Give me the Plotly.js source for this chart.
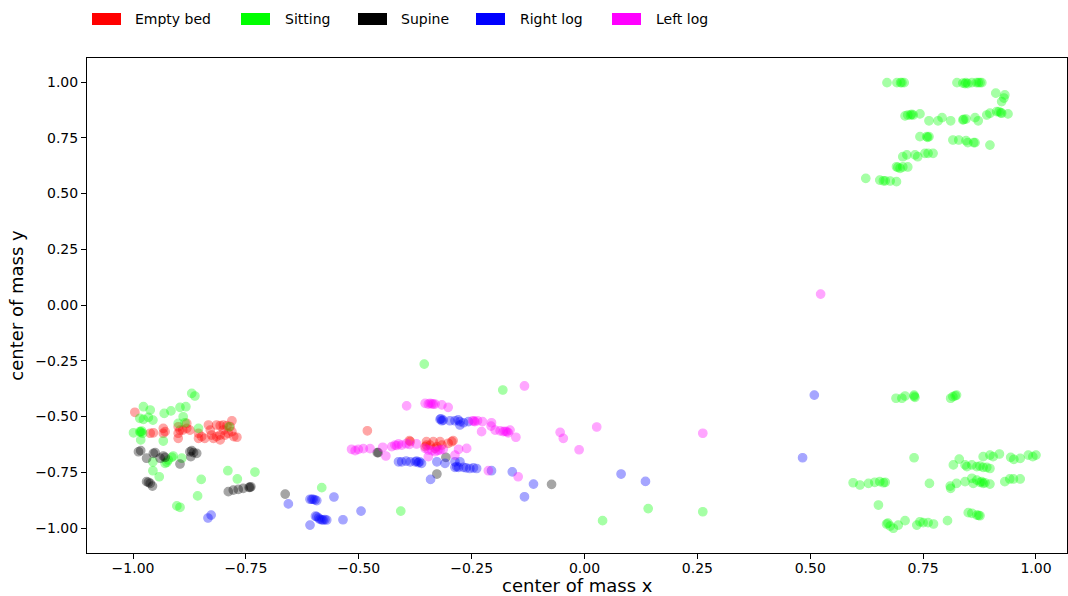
<!DOCTYPE html>
<html>
<head>
<meta charset="utf-8">
<script src="https://cdn.plot.ly/plotly-3.0.1.min.js"></script>
<style>html,body{margin:0;padding:0;background:#fff;}#chart{width:1068px;height:596px;}</style>
</head>
<body>
<div id="chart"></div>
<script>
const categories = ["Empty bed", "Sitting", "Supine", "Right log", "Left log"];
const colors = ["#ff0000", "#00ff00", "#000000", "#0000ff", "#ff00ff"];
const xTitle = "center of mass x";
const yTitle = "center of mass y";

const emptyX = [-0.996,-0.962,-0.955,-0.933,-0.933,-0.929,-0.900,-0.900,-0.896,-0.900,-0.890,-0.881,-0.874,-0.881,
  -0.855,-0.855,-0.848,-0.841,-0.833,-0.829,-0.826,-0.822,-0.815,-0.807,-0.807,
  -0.800,-0.796,-0.789,-0.781,-0.777,-0.770,-0.781,-0.815,-0.807,-0.800,-0.792,-0.785,
  -0.481,-0.388,-0.386,-0.350,-0.350,-0.342,-0.335,-0.327,-0.320,-0.316,-0.302,-0.294,-0.353,-0.331,-0.291];
const emptyY = [-0.481,-0.575,-0.573,-0.553,-0.575,-0.568,-0.546,-0.575,-0.561,-0.598,-0.561,-0.553,-0.561,-0.531,
  -0.575,-0.598,-0.590,-0.598,-0.538,-0.561,-0.583,-0.598,-0.590,-0.583,-0.605,
  -0.561,-0.583,-0.575,-0.568,-0.590,-0.593,-0.519,-0.538,-0.541,-0.538,-0.541,-0.545,
  -0.564,-0.608,-0.612,-0.628,-0.613,-0.628,-0.613,-0.635,-0.613,-0.628,-0.620,-0.613,-0.635,-0.643,-0.608];

const sittingX = [0.670,0.692,0.700,0.703,0.708,0.825,0.838,0.843,0.845,0.849,0.858,0.868,0.872,0.876,0.880,
  0.911,0.931,0.929,0.924,0.710,0.716,0.722,0.725,0.728,0.743,
  0.763,0.783,0.792,0.811,0.838,0.840,0.845,0.865,0.872,0.891,0.898,0.913,0.918,0.922,0.924,0.938,
  0.743,0.758,0.763,0.760,0.816,0.829,0.845,0.849,0.862,0.865,0.898,
  0.705,0.714,0.732,0.738,0.754,0.761,0.772,0.691,0.699,0.705,0.716,0.694,
  0.623,0.654,0.662,0.666,0.677,0.691,
  0.690,0.703,0.710,0.730,0.732,0.730,0.811,0.816,0.821,0.824,0.730,
  0.817,0.830,0.843,0.847,0.858,0.869,0.876,0.883,0.891,0.898,0.883,0.898,0.905,0.919,
  0.944,0.951,0.965,0.983,0.993,1.000,
  0.595,0.610,0.629,0.643,0.654,0.662,0.666,0.764,0.810,0.811,0.824,
  0.843,0.858,0.861,0.869,0.876,0.880,0.883,0.887,0.898,0.931,0.942,0.950,0.965,
  0.651,0.850,0.858,0.869,0.876,0.873,0.669,0.672,0.677,0.684,0.695,0.710,
  0.736,0.743,0.750,0.761,0.773,0.804,
  -0.355,-0.181,-0.582,-0.407,0.040,0.141,0.262,
  -0.870,-0.863,-0.977,-0.962,-0.896,-0.883,-0.985,-0.977,-0.966,-0.956,-0.931,-0.916,
  -0.889,-0.900,-0.885,-0.855,-0.999,-0.985,-0.979,-0.983,-0.981,-0.983,-0.933,
  -0.929,-0.922,-0.914,-0.911,-0.892,-0.925,-0.956,-0.956,-0.942,-0.849,-0.857,-0.903,-0.896,
  -0.790,-0.769,-0.730,-0.787];
const sittingY = [0.997,0.997,0.997,0.997,0.997,0.997,0.995,0.993,0.997,0.993,0.997,0.997,0.997,0.997,0.997,
  0.950,0.942,0.928,0.912,0.848,0.852,0.852,0.855,0.852,0.857,
  0.826,0.826,0.840,0.826,0.830,0.832,0.834,0.840,0.826,0.852,0.860,0.867,0.867,0.862,0.860,0.857,
  0.755,0.755,0.755,0.752,0.740,0.740,0.737,0.728,0.728,0.728,0.717,
  0.665,0.673,0.673,0.665,0.680,0.680,0.680,0.620,0.613,0.619,0.619,0.617,
  0.568,0.560,0.557,0.557,0.556,0.553,
  -0.418,-0.418,-0.408,-0.404,-0.414,-0.410,-0.418,-0.411,-0.407,-0.404,-0.685,
  -0.717,-0.691,-0.717,-0.725,-0.717,-0.725,-0.722,-0.728,-0.728,-0.733,-0.680,-0.673,-0.680,-0.668,
  -0.683,-0.692,-0.688,-0.673,-0.680,-0.673,
  -0.797,-0.807,-0.800,-0.795,-0.792,-0.797,-0.795,-0.800,-0.812,-0.822,-0.800,
  -0.792,-0.777,-0.800,-0.785,-0.795,-0.792,-0.800,-0.797,-0.803,-0.792,-0.780,-0.780,-0.780,
  -0.897,-0.931,-0.934,-0.942,-0.945,-0.943,-0.982,-0.978,-0.991,-1.001,-0.987,-0.967,
  -0.987,-0.972,-0.976,-0.976,-0.982,-0.967,
  -0.265,-0.381,-0.819,-0.924,-0.967,-0.913,-0.927,
  -0.396,-0.408,-0.456,-0.471,-0.459,-0.456,-0.508,-0.513,-0.504,-0.516,-0.486,-0.475,
  -0.501,-0.531,-0.528,-0.553,-0.573,-0.568,-0.575,-0.570,-0.565,-0.605,-0.610,
  -0.710,-0.695,-0.683,-0.677,-0.687,-0.705,-0.703,-0.743,-0.770,-0.782,-0.856,-0.901,-0.907,
  -0.743,-0.780,-0.749,-0.546];

const supineX = [-0.988,-0.983,-0.970,-0.955,-0.951,-0.940,-0.929,-0.933,-0.896,-0.874,-0.870,-0.866,-0.859,-0.872,
  -0.970,-0.966,-0.962,-0.957,-0.789,-0.778,-0.767,-0.756,-0.741,-0.743,-0.739,
  -0.663,-0.459,-0.457,-0.307,-0.327,-0.073];
const supineY = [-0.658,-0.653,-0.687,-0.665,-0.662,-0.687,-0.683,-0.677,-0.713,-0.658,-0.653,-0.662,-0.665,-0.680,
  -0.792,-0.795,-0.800,-0.812,-0.837,-0.830,-0.827,-0.822,-0.818,-0.818,-0.815,
  -0.848,-0.662,-0.662,-0.683,-0.758,-0.804];

const rightX = [-0.656,-0.608,-0.604,-0.601,-0.597,-0.593,-0.555,-0.608,
  -0.596,-0.593,-0.589,-0.586,-0.582,-0.579,-0.575,-0.571,-0.535,-0.495,-0.834,-0.827,
  -0.320,-0.316,-0.313,-0.318,-0.298,-0.287,-0.276,-0.268,-0.257,-0.276,-0.280,
  -0.412,-0.405,-0.386,-0.375,-0.368,-0.361,-0.372,-0.365,-0.395,-0.327,-0.309,
  -0.287,-0.279,-0.268,-0.254,-0.239,-0.283,-0.262,-0.246,-0.287,-0.276,
  -0.341,-0.206,-0.160,-0.113,-0.133,0.081,0.135,0.483,0.509];
const rightY = [-0.892,-0.871,-0.871,-0.871,-0.874,-0.877,-0.861,-0.987,
  -0.947,-0.949,-0.955,-0.961,-0.963,-0.964,-0.962,-0.964,-0.963,-0.924,-0.955,-0.942,
  -0.513,-0.519,-0.516,-0.510,-0.519,-0.519,-0.523,-0.528,-0.523,-0.538,-0.515,
  -0.703,-0.703,-0.703,-0.703,-0.707,-0.710,-0.700,-0.703,-0.700,-0.703,-0.710,
  -0.728,-0.728,-0.728,-0.733,-0.733,-0.725,-0.730,-0.730,-0.703,-0.703,
  -0.782,-0.743,-0.748,-0.803,-0.860,-0.758,-0.791,-0.685,-0.404];

const leftX = [0.523,0.262,0.027,-0.012,-0.047,-0.054,-0.133,-0.394,
  -0.353,-0.346,-0.342,-0.338,-0.335,-0.331,-0.316,-0.302,
  -0.248,-0.245,-0.243,-0.237,-0.226,-0.206,-0.207,-0.228,
  -0.198,-0.187,-0.180,-0.176,-0.172,-0.169,-0.165,-0.152,
  -0.427,-0.420,-0.412,-0.405,-0.416,-0.372,
  -0.353,-0.346,-0.338,-0.331,-0.320,-0.313,-0.325,
  -0.279,-0.261,-0.346,-0.287,-0.213,-0.147,
  -0.516,-0.508,-0.501,-0.490,-0.475,-0.447,-0.440,-0.395,-0.388];
const leftY = [0.049,-0.575,-0.547,-0.649,-0.598,-0.571,-0.363,-0.452,
  -0.441,-0.444,-0.441,-0.443,-0.444,-0.444,-0.448,-0.459,
  -0.519,-0.520,-0.523,-0.519,-0.523,-0.528,-0.543,-0.568,
  -0.561,-0.564,-0.568,-0.566,-0.568,-0.573,-0.561,-0.593,
  -0.635,-0.628,-0.623,-0.628,-0.630,-0.623,
  -0.643,-0.650,-0.653,-0.658,-0.650,-0.647,-0.652,
  -0.647,-0.643,-0.680,-0.673,-0.743,-0.770,
  -0.647,-0.653,-0.647,-0.644,-0.644,-0.638,-0.677,-0.622,-0.625];

const tickVals = [-1.0, -0.75, -0.5, -0.25, 0.0, 0.25, 0.5, 0.75, 1.0];

const xs = [emptyX, sittingX, supineX, rightX, leftX];
const ys = [emptyY, sittingY, supineY, rightY, leftY];

const traces = categories.map((name, i) => ({
  type: "scatter", mode: "markers", name: name,
  x: xs[i], y: ys[i], showlegend: false,
  marker: {color: colors[i], size: 8.5, opacity: 0.35, line: {width: 1.2, color: colors[i]}}
}));

// Legend drawn as rectangles plus text labels
const legendRectX = [92, 241, 358, 476, 612];
const legendTextX = [133, 283, 399, 518, 654];
const W = 1068, H = 596;
const PL = 87, PR = 1067, PT = 58, PB = 553;
const shapes = categories.map((c, i) => ({
  type: "rect", xref: "paper", yref: "paper",
  x0: (legendRectX[i] - PL) / (PR - PL), x1: (legendRectX[i] + 29 - PL) / (PR - PL),
  y0: (PB - 25) / (PB - PT), y1: (PB - 13) / (PB - PT),
  fillcolor: colors[i], line: {width: 0}
}));
const annotations = categories.map((c, i) => ({
  text: c, xref: "paper", yref: "paper", showarrow: false,
  x: (legendTextX[i] - PL) / (PR - PL), y: (PB - 19) / (PB - PT),
  xanchor: "left", yanchor: "middle",
  font: {family: "DejaVu Sans", size: 14, color: "#000"}
}));
annotations.push({
  text: xTitle, xref: "paper", yref: "paper", showarrow: false,
  x: 0.5, y: (PB - 585) / (PB - PT), xanchor: "center", yanchor: "middle",
  font: {family: "DejaVu Sans", size: 18, color: "#000"}
});

const axisCommon = {
  showgrid: false, zeroline: false, showline: true, linecolor: "#000", linewidth: 1, mirror: true,
  ticks: "outside", ticklen: 5, tickwidth: 1, tickcolor: "#000",
  tickvals: tickVals, tickformat: ".2f",
  tickfont: {family: "DejaVu Sans", size: 14, color: "#000"}
};

const layout = {
  width: W, height: H,
  margin: {l: PL, r: W - PR, t: PT, b: H - PB},
  paper_bgcolor: "#fff", plot_bgcolor: "#fff",
  showlegend: false,
  xaxis: Object.assign({}, axisCommon, {range: [-1.102, 1.0687], automargin: false, ticklabelstandoff: -3}),
  yaxis: Object.assign({}, axisCommon, {range: [-1.112, 1.1076], automargin: false,
    title: {text: yTitle, font: {family: "DejaVu Sans", size: 18, color: "#000"}, standoff: 6}}),
  shapes: shapes,
  annotations: annotations
};

Plotly.newPlot("chart", traces, layout, {displayModeBar: false, staticPlot: true});
</script>
</body>
</html>
